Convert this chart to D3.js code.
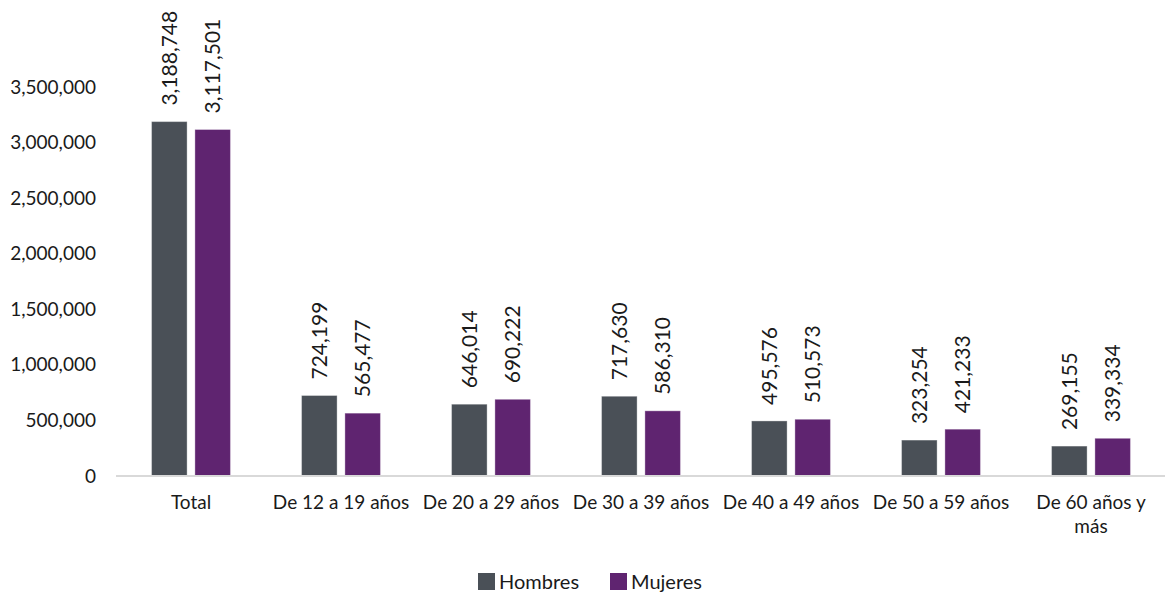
<!DOCTYPE html>
<html lang="es">
<head>
<meta charset="utf-8">
<title>Población por grupo de edad</title>
<script src="https://cdn.jsdelivr.net/npm/d3@7"></script>
<style>
  body { margin: 0; background: #fff; }
  svg text { font-family: Lato, "Open Sans", sans-serif; fill: #1a1a1a; }
</style>
</head>
<body>
<script>
// datos
var categorias = ["Total", "De 12 a 19 años", "De 20 a 29 años", "De 30 a 39 años",
                  "De 40 a 49 años", "De 50 a 59 años", "De 60 años y más"];
var series = ["Hombres", "Mujeres"];
var hombres = [3188748, 724199, 646014, 717630, 495576, 323254, 269155];
var mujeres = [3117501, 565477, 690222, 586310, 510573, 421233, 339334];
var yTicks = [0, 500000, 1000000, 1500000, 2000000, 2500000, 3000000, 3500000];
var colores = ["#4a5057", "#5f2470"];

var w = 1165, h = 597;
var mLeft = 116, mRight = 1166, mBottom = 476, mTop = 87;

var svg = d3.select("body").append("svg")
  .attr("width", w)
  .attr("height", h);

var x0 = d3.scaleBand().domain(categorias).range([mLeft, mRight])
  .paddingInner(0.474).paddingOuter(0.237);
var x1 = d3.scaleBand().domain(series).range([0, x0.bandwidth()]).paddingInner(0.18);
var y = d3.scaleLinear().domain([0, 3500000]).range([mBottom, mTop]);

var fmt = d3.format(",");

// eje y
var yAxis = d3.axisLeft(y).tickValues(yTicks).tickFormat(fmt).tickSize(0).tickPadding(20);
var gy = svg.append("g")
  .attr("transform", "translate(" + mLeft + ",0)")
  .call(yAxis);
gy.select(".domain").remove();
gy.selectAll("text").style("font-size", "19px").style("fill", "#1a1a1a")
  .style("font-family", "Lato, sans-serif");

// barras
var filas = categorias.map(function(c, i) {
  return { cat: c, vals: [hombres[i], mujeres[i]] };
});

var grupos = svg.selectAll("g.grupo")
  .data(filas)
  .enter()
  .append("g")
  .attr("class", "grupo")
  .attr("transform", function(d) { return "translate(" + x0(d.cat) + ",0)"; });

grupos.selectAll("rect")
  .data(function(d) { return d.vals.map(function(v, j) { return { s: series[j], v: v, j: j }; }); })
  .enter()
  .append("rect")
  .attr("x", function(d) { return x1(d.s); })
  .attr("y", function(d) { return y(d.v); })
  .attr("width", x1.bandwidth())
  .attr("height", function(d) { return mBottom - y(d.v); })
  .attr("fill", function(d) { return colores[d.j]; })
  .attr("stroke", "#ffffff")
  .attr("stroke-opacity", 0.35)
  .attr("stroke-width", 1);

// etiquetas de datos (rotadas)
grupos.selectAll("text.lbl")
  .data(function(d) { return d.vals.map(function(v, j) { return { s: series[j], v: v }; }); })
  .enter()
  .append("text")
  .attr("class", "lbl")
  .attr("transform", function(d) {
    return "translate(" + (x1(d.s) + x1.bandwidth() / 2) + "," + (y(d.v) - 16) + ") rotate(-90)";
  })
  .attr("dy", "0.36em")
  .style("font-size", "21px")
  .text(function(d) { return fmt(d.v); });

// eje x
svg.append("line")
  .attr("x1", mLeft).attr("x2", mRight)
  .attr("y1", mBottom).attr("y2", mBottom)
  .attr("stroke", "#d9d9d9")
  .attr("stroke-width", 2);

var xAxis = d3.axisBottom(x0).tickSize(0).tickPadding(0);
var gx = svg.append("g")
  .attr("transform", "translate(0," + mBottom + ")")
  .call(xAxis);
gx.select(".domain").remove();
gx.selectAll("text").remove();

// etiquetas de categoría (con salto de línea para la última)
gx.selectAll("g.tick").each(function(c) {
  var t = d3.select(this).append("text")
    .attr("text-anchor", "middle")
    .attr("y", 33)
    .style("font-size", "19px")
    .style("font-family", "Lato, sans-serif")
    .style("fill", "#1a1a1a");
  if (c === "De 60 años y más") {
    t.append("tspan").attr("x", 0).text("De 60 años y");
    t.append("tspan").attr("x", 0).attr("dy", 24).text("más");
  } else {
    t.text(c);
  }
});

// leyenda
var leg = svg.append("g").attr("transform", "translate(478,573)");
var legX = [0, 132];
series.forEach(function(s, i) {
  var g = leg.append("g").attr("transform", "translate(" + legX[i] + ",0)");
  g.append("rect").attr("width", 17).attr("height", 17).attr("fill", colores[i]);
  g.append("text").attr("x", 21).attr("y", 9).attr("dy", "0.35em")
    .style("font-size", "20px").text(s);
});
</script>
</body>
</html>
